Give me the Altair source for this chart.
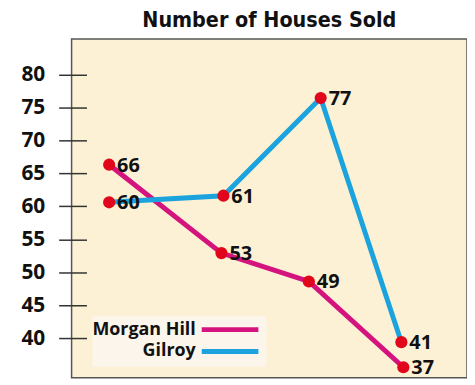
import altair as alt
import pandas as pd

# ---- data ----
series_names = ["Morgan Hill", "Gilroy"]
series_colors = ["#D4137F", "#1BA3DD"]

morgan_x = [0.95, 3.79, 6.0, 8.39]
morgan_y = [66.3, 52.9, 48.6, 35.6]
morgan_labels = ["66", "53", "49", "37"]

gilroy_x = [0.95, 3.84, 6.3, 8.34]
gilroy_y = [60.6, 61.6, 76.4, 39.4]
gilroy_labels = ["60", "61", "77", "41"]

y_ticks = [40, 45, 50, 55, 60, 65, 70, 75, 80]
title_text = "Number of Houses Sold"

rows = []
for name, xs, ys, labs in [
    (series_names[0], morgan_x, morgan_y, morgan_labels),
    (series_names[1], gilroy_x, gilroy_y, gilroy_labels),
]:
    for i, (xv, yv, lb) in enumerate(zip(xs, ys, labs)):
        rows.append({"series": name, "order": i, "x": xv, "y": yv, "label": lb})
df = pd.DataFrame(rows)

FONT = "Open Sans"

xs = alt.X("x:Q", scale=alt.Scale(domain=[0, 10], nice=False, zero=False), axis=None)
ys = alt.Y(
    "y:Q",
    scale=alt.Scale(domain=[34, 85.35], nice=False, zero=False),
    axis=alt.Axis(
        values=y_ticks, title=None, domain=False, grid=False,
        offset=-15, tickSize=28, tickWidth=1.5, tickColor="#333333",
        labelFontSize=21, labelFontWeight="bold", labelFont=FONT,
        labelColor="#111111", labelPadding=14,
    ),
)
color = alt.Color(
    "series:N",
    scale=alt.Scale(domain=series_names, range=series_colors),
    legend=None,
)

base = alt.Chart(df)
lines = base.mark_line(strokeWidth=5).encode(x=xs, y=ys, color=color, order="order:Q", detail="series:N")
points = base.mark_circle(size=150, color="#E1061B", opacity=1).encode(x=xs, y=ys)
labels = base.mark_text(
    align="left", baseline="middle", dx=8, dy=1,
    fontSize=20, fontWeight="bold", font=FONT, color="#111111",
).encode(x=xs, y=ys, text="label:N")

# ---- title as a text mark ----
title_layer = alt.Chart(pd.DataFrame({"t": [title_text]})).mark_text(
    align="center", baseline="alphabetic", fontSize=21.5, fontWeight="bold",
    font="DejaVu Sans Condensed", color="#111111",
).encode(text="t:N", x=alt.value(199), y=alt.value(-12))

# ---- legend (label on the left, swatch on the right) ----
legend_layers = [
    alt.Chart(pd.DataFrame({"k": [0]})).mark_rect(fill="#FBF5EB").encode(
        x=alt.value(21), x2=alt.value(196), y=alt.value(279), y2=alt.value(330)
    )
]
legend_y = [292.5, 314.5]
for name, col, yy in zip(series_names, series_colors, legend_y):
    d = pd.DataFrame({"series": [name]})
    legend_layers.append(
        alt.Chart(d).mark_text(
            align="right", baseline="middle", fontSize=18, fontWeight="bold",
            font=FONT, color="#111111",
        ).encode(text="series:N", x=alt.value(125), y=alt.value(yy))
    )
    legend_layers.append(
        alt.Chart(d).mark_rule(strokeWidth=5, color=col).encode(
            x=alt.value(131), x2=alt.value(188), y=alt.value(yy)
        )
    )

chart = alt.layer(lines, points, labels, title_layer, *legend_layers).properties(
    width=398,
    height=341,
    autosize=alt.AutoSizeParams(type="none"),
    padding={"left": 64, "top": 30, "right": 0, "bottom": 0},
).configure_view(fill="#FCF1D4", stroke="#555555", strokeWidth=1.5)

chart.save("out.html", embed_options={"renderer": "svg", "actions": False})
